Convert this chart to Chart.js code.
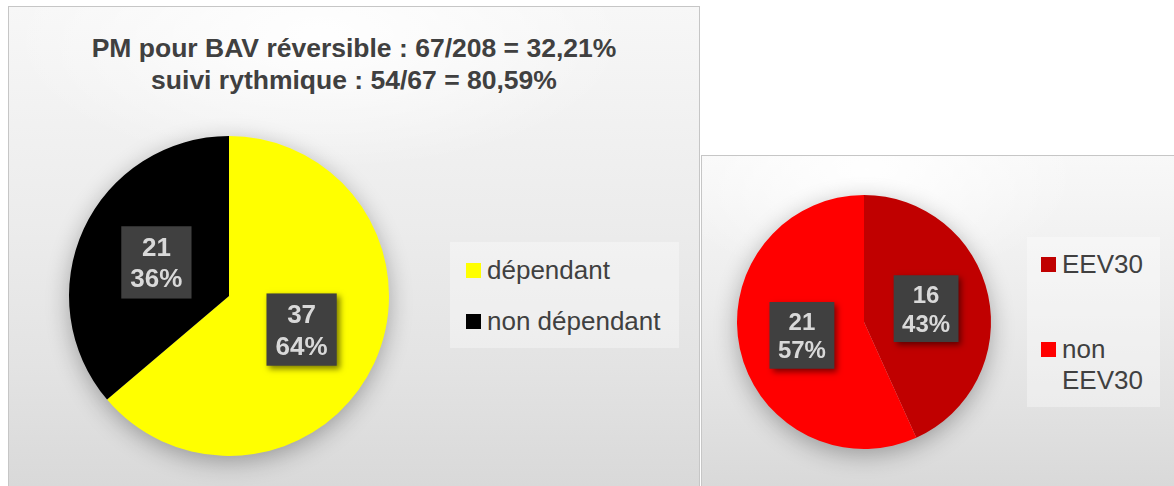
<!DOCTYPE html>
<html>
<head>
<meta charset="utf-8">
<script src="https://cdn.jsdelivr.net/npm/chart.js@4.4.1/dist/chart.umd.min.js"></script>
<style>
    body { margin: 0; width: 1174px; height: 486px; overflow: hidden; background: #fff; position: relative;
           font-family: "Liberation Sans", Arial, Helvetica, sans-serif; color: #404040; }
    .panel { position: absolute; box-sizing: border-box; border: 1px solid #c6c6c6; }
    #panelLeft { left: 8px; top: 6px; width: 692px; height: 481px;
        background:
            radial-gradient(ellipse 45% 28% at 45% 6%, rgba(255,255,255,0.95), rgba(255,255,255,0)),
            linear-gradient(to bottom, #f7f7f7 0%, #ececec 45%, #e3e3e3 75%, #d9d9d9 100%); }
    #panelRight { left: 701px; top: 155px; width: 474px; height: 332px;
        background:
            radial-gradient(ellipse 45% 35% at 35% 4%, rgba(255,255,255,0.95), rgba(255,255,255,0)),
            linear-gradient(to bottom, #f8f8f8 0%, #ececec 45%, #e2e2e2 75%, #d9d9d9 100%); }
    #title { position: absolute; left: 8px; top: 32px; width: 692px; text-align: center;
             font-weight: bold; font-size: 26.5px; line-height: 32px; color: #404040; }
    canvas { position: absolute; }
    .legendBox { position: absolute; background: rgba(255,255,255,0.35); }
    .lg { position: absolute; font-size: 26px; line-height: 31px; color: #404040; }
    .lg .sq { position: absolute; left: 0; top: 8px; width: 15px; height: 15px; }
    .lg .tx { display: block; padding-left: 21px; }
</style>
</head>
<body>
<div class="panel" id="panelLeft"></div>
<div class="panel" id="panelRight"></div>
<div id="title"></div>
<div class="legendBox" style="left:450px;top:242px;width:229px;height:106px"></div>
<div class="legendBox" style="left:1027px;top:237px;width:133px;height:170px"></div>
<div id="legendLeft"></div>
<div id="legendRight"></div>
<canvas id="pieLeft" width="400" height="400" style="left:29px;top:96px"></canvas>
<canvas id="pieRight" width="334" height="334" style="left:697px;top:155px"></canvas>
<script>
// ========== 数据 ==========
const titleLines = ['PM pour BAV réversible : 67/208 = 32,21%', 'suivi rythmique : 54/67 = 80,59%'];

const depLabels = ['dépendant', 'non dépendant'];
const depValues = [37, 21];
const depColors = ['#FFFF00', '#000000'];

const eevLabels = ['EEV30', 'non EEV30'];
const eevValues = [16, 21];
const eevColors = ['#C00000', '#FF0000'];

document.getElementById('title').innerHTML = titleLines.join('<br>');

// ========== 图例 ==========
function buildLegend(id, labels, colors, left, tops, textWidth) {
    document.getElementById(id).innerHTML = labels.map((l, i) => `
        <div class="lg" style="left:${left}px;top:${tops[i]}px;width:${textWidth + 21}px">
            <span class="sq" style="background:${colors[i]}"></span>
            <span class="tx">${l}</span>
        </div>
    `).join('');
}
buildLegend('legendLeft', depLabels, depColors, 466, [255, 306], 200);
buildLegend('legendRight', eevLabels, eevColors, 1041, [249, 334], 90);

// ========== 插件 ==========
const pieShadow = {
    id: 'pieShadow',
    beforeDatasetsDraw(chart) {
        const arc = chart.getDatasetMeta(0).data[0];
        const ctx = chart.ctx;
        ctx.save();
        ctx.shadowColor = 'rgba(0,0,0,0.32)';
        ctx.shadowBlur = 24;
        ctx.shadowOffsetY = 6;
        ctx.fillStyle = '#bbbbbb';
        ctx.beginPath();
        ctx.arc(arc.x, arc.y, arc.outerRadius - 1, 0, Math.PI * 2);
        ctx.fill();
        ctx.restore();
    }
};

const boxLabels = {
    id: 'boxLabels',
    afterDatasetsDraw(chart, args, opts) {
        const ctx = chart.ctx;
        const ds = chart.data.datasets[0];
        const total = ds.data.reduce((a, b) => a + b, 0);
        const fs = opts.size;
        ctx.save();
        ctx.font = `bold ${fs}px "Liberation Sans", Arial, sans-serif`;
        chart.getDatasetMeta(0).data.forEach((arc, i) => {
            const p = arc.tooltipPosition();
            const l1 = String(ds.data[i]);
            const l2 = Math.round(ds.data[i] / total * 100) + '%';
            const w = Math.max(ctx.measureText(l1).width, ctx.measureText(l2).width) + fs * 0.7;
            const h = fs * 2.78;
            ctx.shadowColor = 'rgba(0,0,0,0.5)';
            ctx.shadowBlur = 6;
            ctx.shadowOffsetX = 3;
            ctx.shadowOffsetY = 3;
            ctx.fillStyle = '#404040';
            ctx.fillRect(p.x - w / 2, p.y - h / 2, w, h);
            ctx.shadowColor = 'transparent';
            ctx.fillStyle = '#d9d9d9';
            ctx.textAlign = 'center';
            ctx.textBaseline = 'alphabetic';
            ctx.fillText(l1, p.x, p.y - fs * 0.24);
            ctx.fillText(l2, p.x, p.y + fs * 0.96);
        });
        ctx.restore();
    }
};

// ========== 饼图 ==========
function makePie(id, labels, values, colors, radius, pad, labelSize) {
    return new Chart(document.getElementById(id), {
        type: 'pie',
        data: {
            labels: labels,
            datasets: [{
                data: values,
                backgroundColor: colors,
                borderWidth: 0,
                hoverOffset: 0
            }]
        },
        options: {
            responsive: false,
            animation: false,
            devicePixelRatio: 1,
            radius: radius,
            layout: { padding: pad },
            events: [],
            plugins: {
                legend: { display: false },
                tooltip: { enabled: false },
                title: { display: false },
                boxLabels: { size: labelSize }
            }
        },
        plugins: [pieShadow, boxLabels]
    });
}

makePie('pieLeft', depLabels, depValues, depColors, 160, 40, 26);
makePie('pieRight', eevLabels, eevValues, eevColors, 127, 40, 24);
</script>
</body>
</html>
